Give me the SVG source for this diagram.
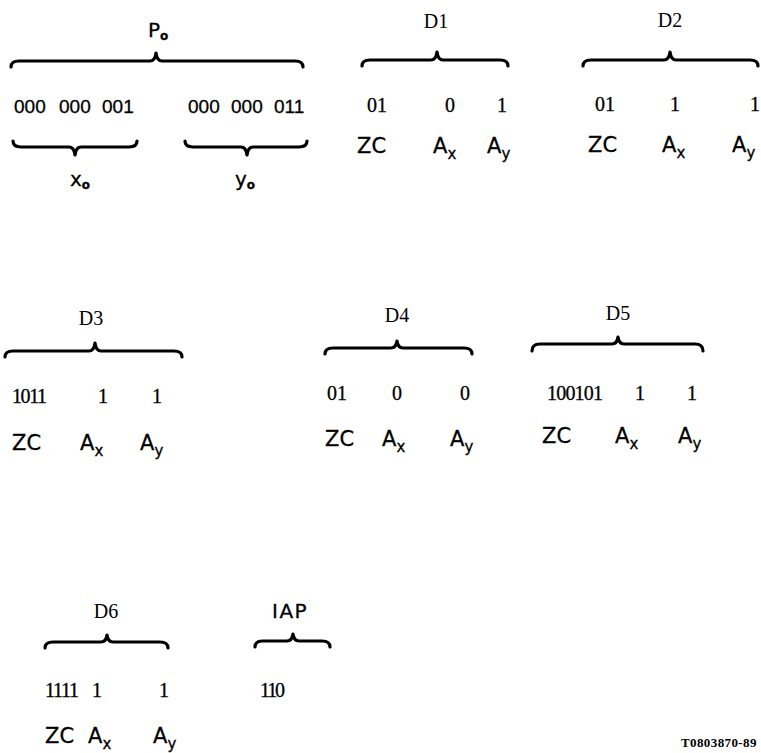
<svg xmlns="http://www.w3.org/2000/svg" width="761" height="753" viewBox="0 0 761 753">
<style>
.b{fill:none;stroke:#000;stroke-width:3.2;stroke-linecap:round;stroke-linejoin:round}
.n{font-family:"Liberation Serif",serif;font-size:20px;fill:#000;stroke:#000;stroke-width:0.3}
.p{font-family:"Liberation Sans",sans-serif;font-size:19px;fill:#000;stroke:#000;stroke-width:0.3}
.s{font-family:"DejaVu Sans","Liberation Sans",sans-serif;font-size:21px;fill:#000;stroke:#000;stroke-width:0.3}
.l{font-family:"Liberation Serif",serif;font-size:20px;fill:#000;text-anchor:middle}
.sub{font-size:15px}
.o{font-size:12px;font-weight:bold}
.f{font-family:"Liberation Serif",serif;font-size:13px;font-weight:bold;fill:#000;letter-spacing:0.4px}
</style>
<rect width="761" height="753" fill="#fff"/>
<g id="connectors">
<path class="b" d="M11,67 Q11,61 19,61 L150,61 Q155,61 156,53 Q157,61 162,61 L295,61 Q303,61 303,67"/>
<path class="b" d="M13,141 Q13,147 21,147 L69,147 Q74,147 75,155 Q76,147 81,147 L129,147 Q137,147 137,141"/>
<path class="b" d="M185,141 Q185,147 193,147 L241,147 Q246,147 247,155 Q248,147 253,147 L299,147 Q307,147 307,141"/>
<path class="b" d="M362,66 Q362,60 370,60 L431,60 Q436,60 437,52 Q438,60 443,60 L500,60 Q508,60 508,66"/>
<path class="b" d="M583,66 Q583,60 591,60 L664,60 Q669,60 670,52 Q671,60 676,60 L750,60 Q758,60 758,66"/>
<path class="b" d="M5,357 Q5,351 13,351 L89,351 Q94,351 95,343 Q96,351 101,351 L174,351 Q182,351 182,357"/>
<path class="b" d="M325,354 Q325,348 333,348 L391,348 Q396,348 397,341 Q398,348 403,348 L464,348 Q472,348 472,354"/>
<path class="b" d="M532,351 Q532,344 540,344 L612,344 Q617,344 618,337 Q619,344 624,344 L695,344 Q703,344 703,351"/>
<path class="b" d="M45,648 Q45,642 53,642 L101,642 Q106,642 107,635 Q108,642 113,642 L160,642 Q168,642 168,648"/>
<path class="b" d="M255,647 Q255,641 263,641 L287,641 Q292,641 293,634 Q294,641 299,641 L322,641 Q330,641 330,647"/>
</g>
<g id="P0">
<text class="s" x="148" y="37" style="font-size:20px">P<tspan class="o" dy="3">o</tspan></text>
<text class="p" x="14" y="113">000</text>
<text class="p" x="59" y="113">000</text>
<text class="p" x="102" y="113">001</text>
<text class="p" x="188" y="113">000</text>
<text class="p" x="231" y="113">000</text>
<text class="p" x="274" y="113">011</text>
<text class="s" x="70" y="186" style="font-size:20px">x<tspan class="o" dy="3">o</tspan></text>
<text class="s" x="235" y="186" style="font-size:20px">y<tspan class="o" dy="3">o</tspan></text>
</g>
<g id="D1">
<text class="l" x="436" y="28">D1</text>
<text class="n" x="367" y="112">01</text>
<text class="n" x="445" y="112">0</text>
<text class="n" x="497" y="112">1</text>
<text class="s" x="357" y="153">ZC</text>
<text class="s" x="433" y="153">A<tspan class="sub" dy="6">x</tspan></text>
<text class="s" x="487" y="153">A<tspan class="sub" dy="6">y</tspan></text>
</g>
<g id="D2">
<text class="l" x="670" y="27">D2</text>
<text class="n" x="595" y="111">01</text>
<text class="n" x="670" y="111">1</text>
<text class="n" x="750" y="111">1</text>
<text class="s" x="588" y="152">ZC</text>
<text class="s" x="662" y="152">A<tspan class="sub" dy="6">x</tspan></text>
<text class="s" x="732" y="152">A<tspan class="sub" dy="6">y</tspan></text>
</g>
<g id="D3">
<text class="l" x="91" y="325">D3</text>
<text class="n" x="12" y="403" textLength="35">1011</text>
<text class="n" x="98" y="403">1</text>
<text class="n" x="152" y="403">1</text>
<text class="s" x="12" y="450">ZC</text>
<text class="s" x="80" y="450">A<tspan class="sub" dy="6">x</tspan></text>
<text class="s" x="140" y="450">A<tspan class="sub" dy="6">y</tspan></text>
</g>
<g id="D4">
<text class="l" x="397" y="322">D4</text>
<text class="n" x="327" y="400">01</text>
<text class="n" x="392" y="400">0</text>
<text class="n" x="460" y="400">0</text>
<text class="s" x="325" y="446">ZC</text>
<text class="s" x="382" y="446">A<tspan class="sub" dy="6">x</tspan></text>
<text class="s" x="450" y="446">A<tspan class="sub" dy="6">y</tspan></text>
</g>
<g id="D5">
<text class="l" x="618" y="320">D5</text>
<text class="n" x="547" y="400" textLength="56">100101</text>
<text class="n" x="635" y="400">1</text>
<text class="n" x="687" y="400">1</text>
<text class="s" x="542" y="443">ZC</text>
<text class="s" x="615" y="443">A<tspan class="sub" dy="6">x</tspan></text>
<text class="s" x="678" y="443">A<tspan class="sub" dy="6">y</tspan></text>
</g>
<g id="D6">
<text class="l" x="106" y="618">D6</text>
<text class="n" x="45" y="697" textLength="34">1111</text>
<text class="n" x="92" y="697">1</text>
<text class="n" x="159" y="697">1</text>
<text class="s" x="45" y="743">ZC</text>
<text class="s" x="88" y="743">A<tspan class="sub" dy="6">x</tspan></text>
<text class="s" x="153" y="743">A<tspan class="sub" dy="6">y</tspan></text>
</g>
<g id="IAP">
<text class="s" x="272" y="618" style="font-size:20px;letter-spacing:1.5px">IAP</text>
<text class="n" x="260" y="697" textLength="25">110</text>
</g>
<g id="footnote">
<text class="f" x="681" y="747">T0803870-89</text>
</g>
</svg>
